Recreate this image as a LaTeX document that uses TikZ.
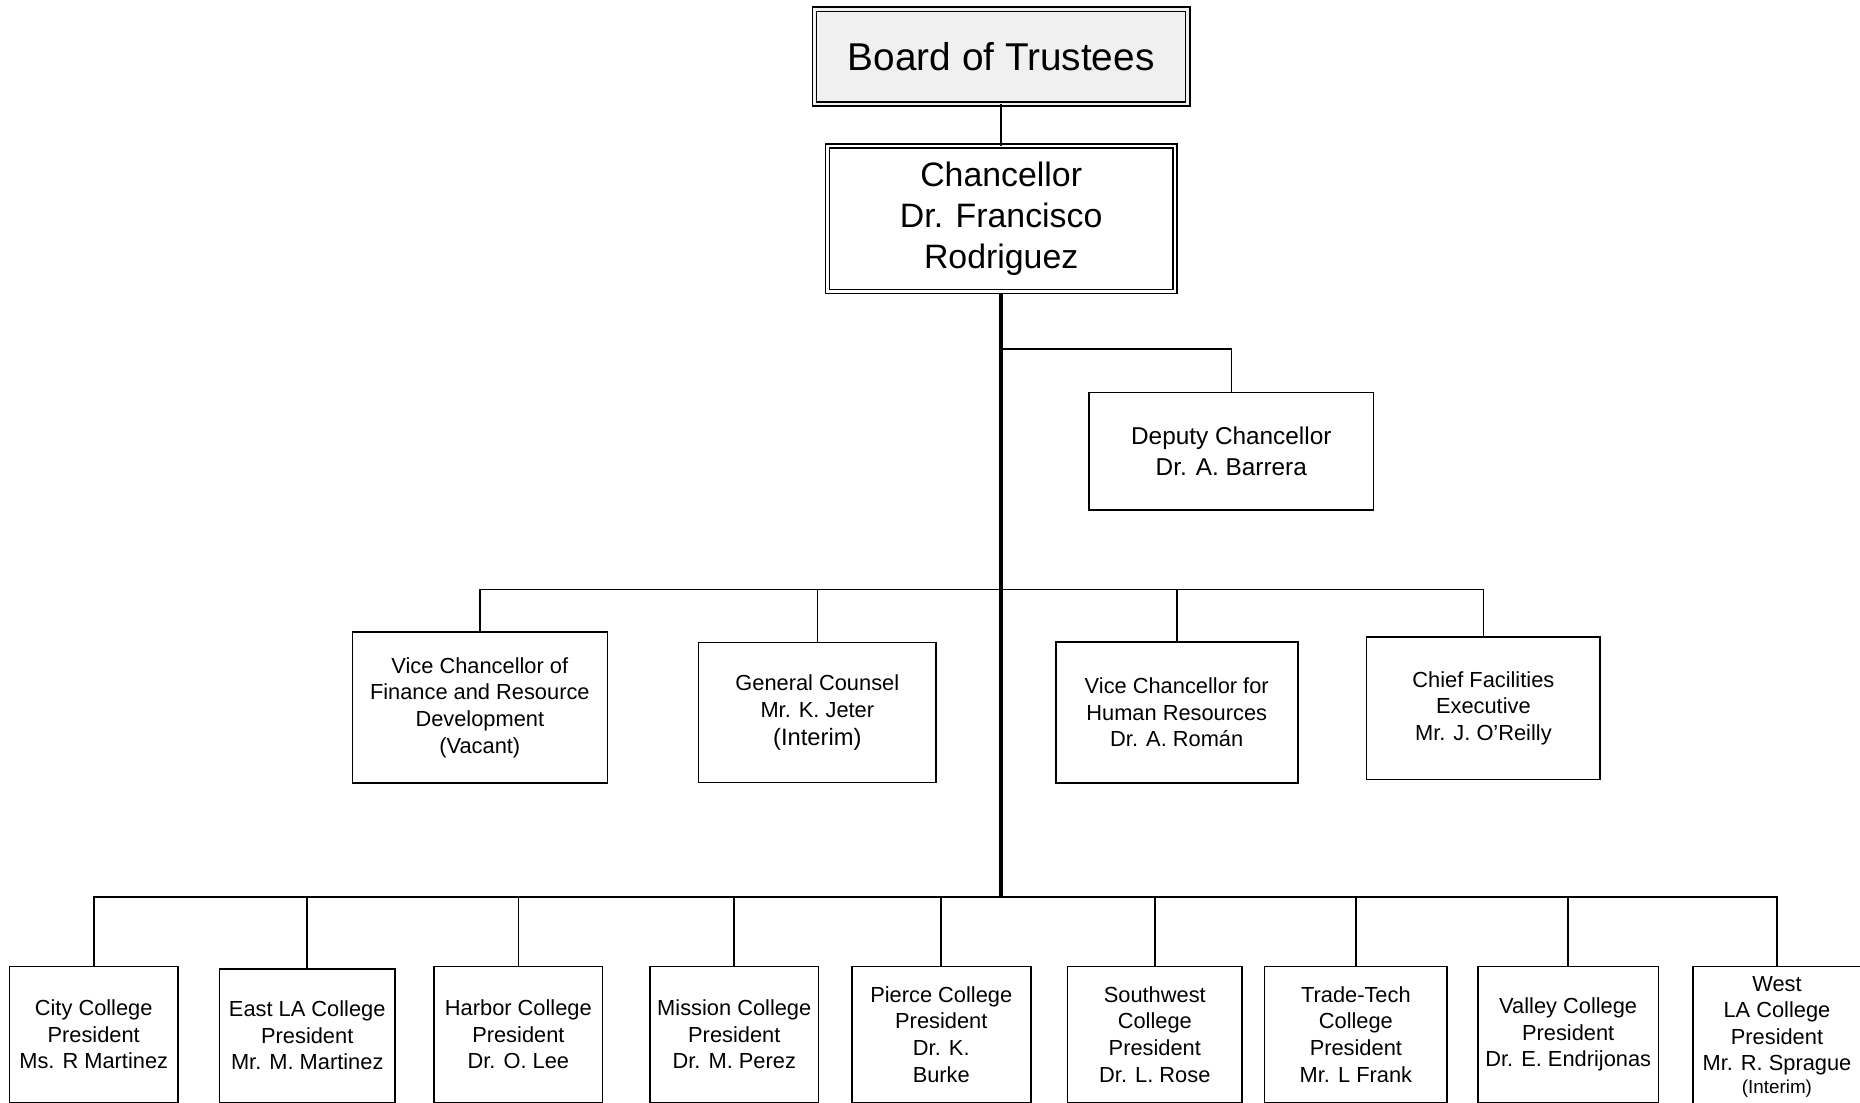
\documentclass[tikz,border=0pt]{standalone}
\usepackage{fontspec}
\setmainfont{Liberation Sans}
\definecolor{boardfill}{HTML}{F0F0F0}
\begin{document}
\begin{tikzpicture}[x=0.75pt,y=-0.75pt,
  box/.style={draw,line width=1pt,inner sep=0pt,outer sep=0pt,align=center,fill=white,font=\fontsize{13.8}{16.8}\selectfont},
  dbox/.style={box,double,double distance=1.7pt,line width=0.9pt},
  link/.style={line width=1pt},
  trunk/.style={line width=2.4pt}]
\useasboundingbox (0,0) rectangle (1568,929);
\clip (0,0) rectangle (1568,929);
% top
\node[dbox, fill=boardfill, double=boardfill, minimum width=235.9pt, minimum height=60pt, font=\fontsize{24.5}{29}\selectfont] (board) at (844,47.75) {Board of Trustees};
\node[dbox, minimum width=219.6pt, minimum height=92pt, font=\fontsize{21.4}{25.7}\selectfont] (chan) at (844,184.3) {Chancellor\\Dr. Francisco\\Rodriguez};
\node[box, minimum width=180pt, minimum height=74.25pt, font=\fontsize{15.4}{19.5}\selectfont] (dep) at (1038,380.5) {Deputy Chancellor\\Dr. A. Barrera};
% middle row
\node[box, minimum width=161.25pt, minimum height=95.25pt] (fin) at (404.5,596.5) {Vice Chancellor of\\Finance and Resource\\Development\\(Vacant)};
\node[box, minimum width=150pt, minimum height=88.5pt] (gc) at (689,600.8) {General Counsel\\Mr. K. Jeter\\[1.2pt]{\fontsize{15}{18}\selectfont (Interim)}};
\node[box, minimum width=153pt, minimum height=89.25pt] (hr) at (992,600.5) {Vice Chancellor for\\Human Resources\\Dr. A. Rom\'an};
\node[box, minimum width=147.75pt, minimum height=90pt] (cfe) at (1250.5,597) {Chief Facilities\\Executive\\Mr. J. O'Reilly};
% bottom row
\node[box, minimum width=106.5pt, minimum height=85.9pt] (city) at (79,872) {City College\\President\\Ms. R Martinez};
\node[box, minimum width=111pt, minimum height=84.4pt] (ela) at (259,873) {East LA College\\President\\Mr. M. Martinez};
\node[box, minimum width=106.5pt, minimum height=85.9pt] (harbor) at (437,872) {Harbor College\\President\\Dr. O. Lee};
\node[box, minimum width=106.5pt, minimum height=85.9pt] (mission) at (619,872) {Mission College\\President\\Dr. M. Perez};
\node[box, minimum width=113.25pt, minimum height=85.9pt] (pierce) at (793.5,872) {Pierce College\\President\\Dr. K.\\Burke};
\node[box, minimum width=110.25pt, minimum height=85.9pt] (sw) at (973.5,872) {Southwest\\College\\President\\Dr. L. Rose};
\node[box, minimum width=115.5pt, minimum height=85.9pt] (tt) at (1143,872) {Trade-Tech\\College\\President\\Mr. L Frank};
\node[box, minimum width=114pt, minimum height=85.9pt] (valley) at (1322,872) {Valley College\\President\\Dr. E. Endrijonas};
\node[box, minimum width=106.5pt, minimum height=88.9pt] (wla) at (1498,874) {West\\LA College\\President\\Mr. R. Sprague\\[-2.3pt]{\fontsize{11.9}{14}\selectfont (Interim)}};
% junctions
\coordinate (dj) at (844,294);
\coordinate (mj) at (844,497);
\coordinate (bj) at (844,756);
% connectors
\draw[link] (board.south) -- (chan.north);
\draw[trunk] ([yshift=-1.3pt]chan.south) -- (bj);
\draw[link] (dj) -| (dep.north);
\draw[link] (fin.north) |- (mj) -| (cfe.north);
\draw[link] (gc.north) -- (gc.north |- mj);
\draw[link] (hr.north) -- (hr.north |- mj);
\draw[link] (city.north) |- (bj) -| (wla.north);
\foreach \b in {ela,harbor,mission,pierce,sw,tt,valley}
  \draw[link] (\b.north) -- (\b.north |- bj);
\end{tikzpicture}
\end{document}
